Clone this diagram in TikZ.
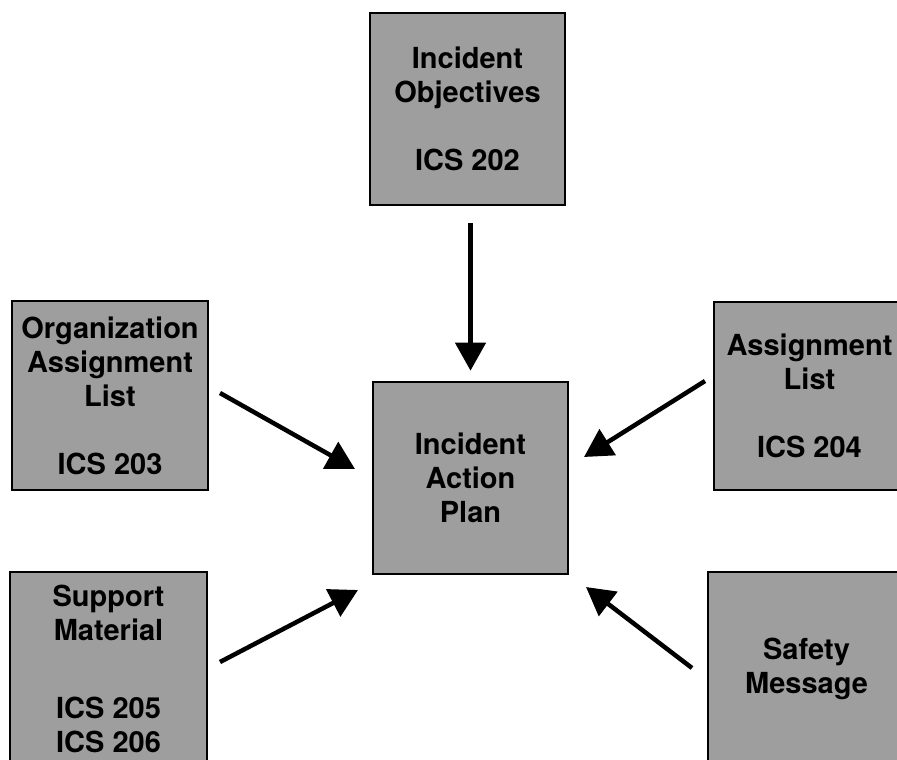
\documentclass[tikz,border=0pt]{standalone}
\usepackage{fontspec}
\usepackage{tikz}
\usetikzlibrary{arrows.meta}
\newfontfamily\heros{TeX Gyre Heros}

\begin{document}
\begin{tikzpicture}[
  x=1pt, y=-1pt,
  box/.style={draw, line width=2.6pt, fill=black!38, inner sep=2pt, align=center,
    font=\heros\bfseries\fontsize{29}{34}\selectfont},
  arr/.style={-{Triangle[length=28pt, width=30pt]}, line width=4.5pt}
]
\useasboundingbox[fill=white] (0,0) rectangle (897,760);
\node[box, minimum width=195pt, minimum height=192pt] (obj) at (467.5,109) {Incident\\Objectives\\[34pt]ICS 202};
\node[box, minimum width=196pt, minimum height=189pt] (org) at (110,395.5) {Organization\\Assignment\\List\\[34pt]ICS 203};
\node[box, minimum width=195pt, minimum height=192pt] (iap) at (470.5,478) {Incident\\Action\\Plan};
\node[box, minimum width=191pt, minimum height=188pt] (asg) at (809.5,396) {Assignment\\List\\[34pt]ICS 204};
\node[box, minimum width=197pt, minimum height=193pt] (sup) at (108.5,668.5) {Support\\Material\\[44pt]ICS 205\\ICS 206};
\node[box, minimum width=197pt, minimum height=193pt] (saf) at (806.5,668.5) {Safety\\Message};
% arrow ends
\coordinate (orgout) at (220,393);
\coordinate (iapW) at (355,469);
\coordinate (asgout) at (705,381);
\coordinate (iapE) at (584,457);
\coordinate (supout) at (220,662);
\coordinate (iapSW) at (358,590);
\coordinate (safout) at (692,668);
\coordinate (iapSE) at (586,587);
\draw[arr, shorten <=17pt, shorten >=10pt] (obj.south -| iap.north) -- (iap.north);
\draw[arr] (orgout) -- (iapW);
\draw[arr] (asgout) -- (iapE);
\draw[arr] (supout) -- (iapSW);
\draw[arr] (safout) -- (iapSE);
\end{tikzpicture}
\end{document}
